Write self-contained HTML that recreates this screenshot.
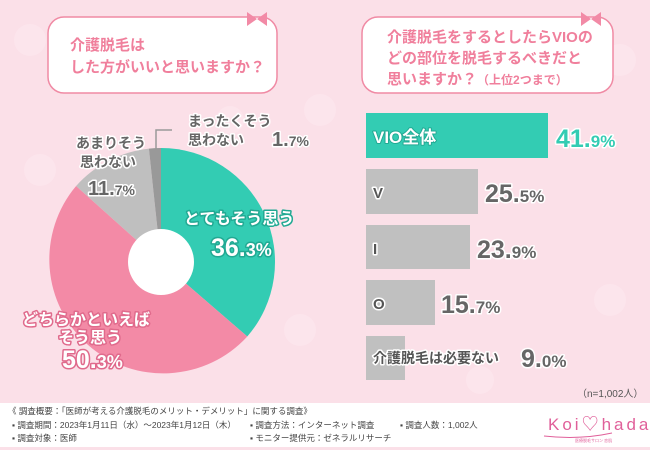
<!DOCTYPE html>
<html><head><meta charset="utf-8"><style>
html,body{margin:0;padding:0;width:650px;height:450px;overflow:hidden;background:#fbe0e8;}
svg{display:block;font-family:"Liberation Sans","Noto Sans CJK JP",sans-serif;}
</style></head><body>
<svg width="650" height="450" viewBox="0 0 650 450">
<rect width="650" height="450" fill="#fbe0e8"/>
<g fill="#fde8ee" opacity="0.6">
<circle cx="30" cy="40" r="16"/><circle cx="320" cy="110" r="16"/><circle cx="620" cy="60" r="16"/><circle cx="40" cy="170" r="16"/><circle cx="300" cy="330" r="16"/><circle cx="610" cy="300" r="16"/><circle cx="230" cy="120" r="14"/><circle cx="480" cy="380" r="14"/>
</g>
<rect x="48" y="17" width="229" height="76" rx="16" fill="#fff" stroke="#f08aa4" stroke-width="1.5"/>
<text x="70" y="50" font-size="15" fill="#f07f9c" font-weight="bold">介護脱毛は</text>
<text x="70" y="72" font-size="15" fill="#f07f9c" font-weight="bold">した方がいいと思いますか？</text>
<path d="M247 12 l10 7 l10 -7 l0 14 l-10 -7 l-10 7z" fill="#f28aa6"/>
<rect x="362" y="17" width="251" height="76" rx="16" fill="#fff" stroke="#f08aa4" stroke-width="1.5"/>
<text x="387" y="42" font-size="15" fill="#f07f9c" font-weight="bold">介護脱毛をするとしたらVIOの</text>
<text x="387" y="63" font-size="15" fill="#f07f9c" font-weight="bold">どの部位を脱毛するべきだと</text>
<text x="387" y="84" font-size="15" fill="#f07f9c" font-weight="bold">思いますか？<tspan font-size="12">（上位2つまで）</tspan></text>
<path d="M581 12 l10 7 l10 -7 l0 14 l-10 -7 l-10 7z" fill="#f28aa6"/>
<path d="M161 262 L161 148 A114 114 0 0 1 247.3 336.5 Z" fill="#33ccb3"/>
<path d="M161 262 L247.3 336.5 A114 114 0 0 1 76.1 186.0 Z" fill="#f38aa6"/>
<path d="M161 262 L76.1 186.0 A114 114 0 0 1 148.9 148.6 Z" fill="#bfbfbf"/>
<path d="M161 262 L148.9 148.6 A114 114 0 0 1 161 148 Z" fill="#999"/>
<circle cx="161" cy="262" r="33" fill="#fff"/>
<polyline points="172,130 156,130 156,162" fill="none" stroke="#999" stroke-width="1.5"/>
<g font-weight="bold" stroke-linejoin="round" paint-order="stroke">
<text x="188" y="126" font-size="14" fill="#666" stroke="#fff" stroke-width="3">まったくそう</text>
<text x="188" y="145" font-size="14" fill="#666" stroke="#fff" stroke-width="3">思わない</text>
<text x="272" y="146" font-size="20" fill="#666" stroke="#fff" stroke-width="3">1.<tspan font-size="14">7%</tspan></text>
<text x="76" y="148" font-size="14" fill="#666" stroke="#fff" stroke-width="3">あまりそう</text>
<text x="80" y="167" font-size="14" fill="#666" stroke="#fff" stroke-width="3">思わない</text>
<text x="88" y="195" font-size="20" fill="#666" stroke="#fff" stroke-width="3">11.<tspan font-size="14">7%</tspan></text>
<text x="184" y="224" font-size="16" fill="#fff" stroke="#22a993" stroke-width="3">とてもそう思う</text>
<text x="211" y="256" font-size="25" fill="#fff" stroke="#22a993" stroke-width="3">36.<tspan font-size="18">3%</tspan></text>
<text x="22" y="325" font-size="16" fill="#fff" stroke="#e06a8c" stroke-width="3">どちらかといえば</text>
<text x="58" y="343" font-size="16" fill="#fff" stroke="#e06a8c" stroke-width="3">そう思う</text>
<text x="62" y="368" font-size="25" fill="#fff" stroke="#e06a8c" stroke-width="3">50.<tspan font-size="18">3%</tspan></text>
</g>
<rect x="366" y="113" width="182" height="45" fill="#33ccb3"/>
<rect x="366" y="169" width="112" height="45" fill="#c0c0c0"/>
<rect x="366" y="225" width="104" height="44" fill="#c0c0c0"/>
<rect x="366" y="280" width="69" height="45" fill="#c0c0c0"/>
<rect x="366" y="336" width="39" height="44" fill="#c0c0c0"/>
<g font-weight="bold" stroke-linejoin="round" paint-order="stroke">
<text x="373" y="143" font-size="17" fill="#fff" stroke="#22a993" stroke-width="2">VIO全体</text>
<text x="556" y="147" font-size="25" fill="#33ccb3" stroke="#fff" stroke-width="3">41.<tspan font-size="17">9%</tspan></text>
<text x="373" y="198" font-size="15" fill="#555" stroke="#fff" stroke-width="3">V</text>
<text x="485" y="202" font-size="25" fill="#666" stroke="#fff" stroke-width="3">25.<tspan font-size="17">5%</tspan></text>
<text x="373" y="254" font-size="15" fill="#555" stroke="#fff" stroke-width="3">I</text>
<text x="477" y="258" font-size="25" fill="#666" stroke="#fff" stroke-width="3">23.<tspan font-size="17">9%</tspan></text>
<text x="373" y="309" font-size="15" fill="#555" stroke="#fff" stroke-width="3">O</text>
<text x="441" y="313" font-size="25" fill="#666" stroke="#fff" stroke-width="3">15.<tspan font-size="17">7%</tspan></text>
<text x="373" y="363" font-size="14" fill="#555" stroke="#fff" stroke-width="3">介護脱毛は必要ない</text>
<text x="521" y="367" font-size="25" fill="#666" stroke="#fff" stroke-width="3">9.<tspan font-size="17">0%</tspan></text>
</g>
<text x="577" y="397" font-size="10" fill="#555">（n=1,002人）</text>
<rect x="0" y="403" width="650" height="44" fill="#fff"/>
<rect x="0" y="447" width="650" height="3" fill="#fbe0e8"/>
<g font-size="8.5" fill="#444">
<text x="8" y="414">《 調査概要：「医師が考える介護脱毛のメリット・デメリット」に関する調査》</text>
<text x="12" y="428">▪ 調査期間：2023年1月11日（水）～2023年1月12日（木）</text>
<text x="12" y="441">▪ 調査対象：医師</text>
<text x="250" y="428">▪ 調査方法：インターネット調査</text>
<text x="250" y="441">▪ モニター提供元：ゼネラルリサーチ</text>
<text x="400" y="428">▪ 調査人数：1,002人</text>
</g>
<text x="548" y="430" font-size="17" fill="#e0609a" letter-spacing="3">Koi♡hada</text>
<path d="M544 436 Q580 440 612 433" stroke="#e0609a" fill="none" stroke-width="1"/>
<text x="575" y="442" font-size="4" fill="#e0609a">医療脱毛サロン 恋肌</text>
</svg>
</body></html>
